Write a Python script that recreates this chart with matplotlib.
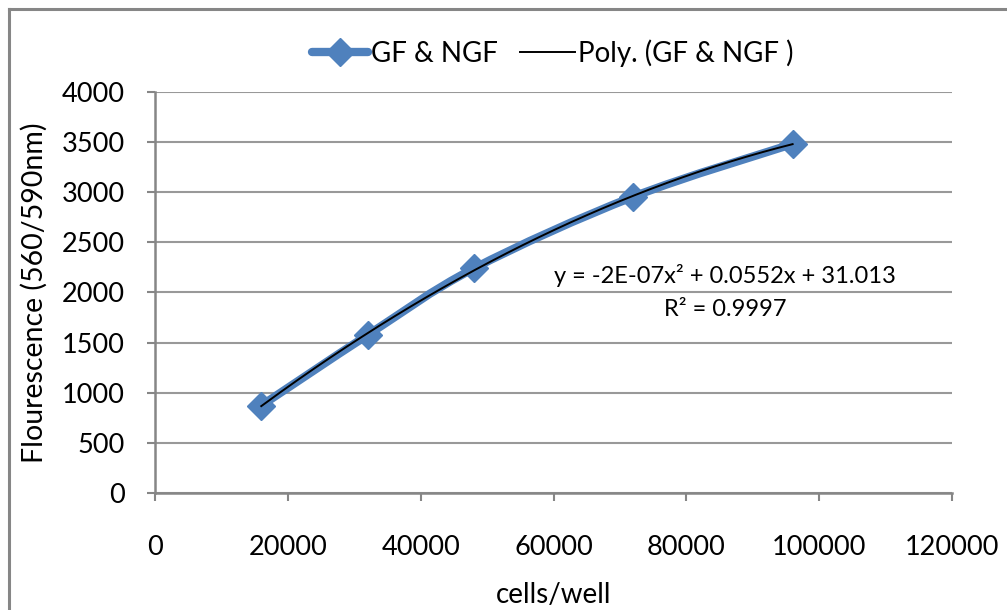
# fluorescence vs cells/well, with 2nd order poly trendline
import numpy as np
import matplotlib.pyplot as plt
from matplotlib.path import Path
from matplotlib.patches import PathPatch
from matplotlib.lines import Line2D

cells = [16000, 32000, 48000, 72000, 96000]
fluor = [872, 1575, 2240, 2955, 3482]
series_name = "GF & NGF"
trend_name = "Poly. (GF & NGF )"
eq_text = "y = -2E-07x² + 0.0552x + 31.013"
r2_text = "R² = 0.9997"
x_ticks = [0, 20000, 40000, 60000, 80000, 100000, 120000]
y_ticks = [0, 500, 1000, 1500, 2000, 2500, 3000, 3500, 4000]

blue = "#4F81BD"
grey = "#868686"

plt.rcParams['font.family'] = ['Lato', 'DejaVu Sans']

fig = plt.figure(figsize=(10.07, 6.10), dpi=100)
ax = fig.add_axes([155/1007, 117/610, 797/1007, 401/610])

# excel-style smoothed line: bezier through the points
x = np.array(cells, dtype=float)
y = np.array(fluor, dtype=float)
verts = [(x[0], y[0])]
codes = [Path.MOVETO]
n = len(x)
for i in range(n - 1):
    p0 = (x[max(i-1, 0)], y[max(i-1, 0)])
    p1 = (x[i], y[i])
    p2 = (x[i+1], y[i+1])
    p3 = (x[min(i+2, n-1)], y[min(i+2, n-1)])
    c1 = (p1[0] + (p2[0]-p0[0])/6, p1[1] + (p2[1]-p0[1])/6)
    c2 = (p2[0] - (p3[0]-p1[0])/6, p2[1] - (p3[1]-p1[1])/6)
    verts += [c1, c2, p2]
    codes += [Path.CURVE4]*3
ax.add_patch(PathPatch(Path(verts, codes), facecolor='none', edgecolor=blue,
                       lw=6, capstyle='round', joinstyle='round', zorder=3))
ax.plot(cells, fluor, linestyle='none', marker='D', markersize=14,
        color=blue, zorder=4)

coef = np.polyfit(x, y, 2)
xs = np.linspace(x.min(), x.max(), 200)
ax.plot(xs, np.polyval(coef, xs), color='black', lw=1.4, zorder=5)

ax.set_xlim(0, 120000)
ax.set_ylim(0, 4000)
ax.set_xticks(x_ticks)
ax.set_yticks(y_ticks)
ax.tick_params(axis='x', direction='out', length=6, width=1.5, color=grey,
               labelsize=19.5, pad=24)
ax.tick_params(axis='y', direction='out', length=6, width=1.5, color=grey,
               labelsize=19.5, pad=16)
ax.yaxis.grid(True, color='#999999', lw=1.5)
ax.set_axisbelow(True)
for s in ['top', 'right']:
    ax.spines[s].set_visible(False)
for s in ['left', 'bottom']:
    ax.spines[s].set_color(grey)
    ax.spines[s].set_linewidth(1.8)

ax.set_xlabel("cells/well", fontsize=20, labelpad=16)
ax.set_ylabel("Flourescence (560/590nm)", fontsize=20.5, labelpad=10)

ax.text(0.72, 0.549, eq_text, transform=fig.transFigure, ha='center',
        va='center', fontsize=17)
ax.text(0.72, 0.492, r2_text, transform=fig.transFigure, ha='center',
        va='center', fontsize=17)

handles = [Line2D([], [], color=blue, lw=6, marker='D', markersize=14,
                  solid_capstyle='round'),
           Line2D([], [], color='black', lw=1.4)]
fig.legend(handles, [series_name, trend_name], loc='center',
           bbox_to_anchor=(0.549, 0.913), ncol=2, frameon=False, fontsize=20,
           handlelength=2.0, handletextpad=0.1, columnspacing=0.8)

# outer chart frame
fig.add_artist(Line2D([8.5/1007, 8.5/1007], [0, 1 - 9/610], color=grey, lw=2.2))
fig.add_artist(Line2D([8.5/1007, 1], [1 - 9/610, 1 - 9/610], color=grey, lw=2.2))

fig.savefig("out.png", dpi=100)
